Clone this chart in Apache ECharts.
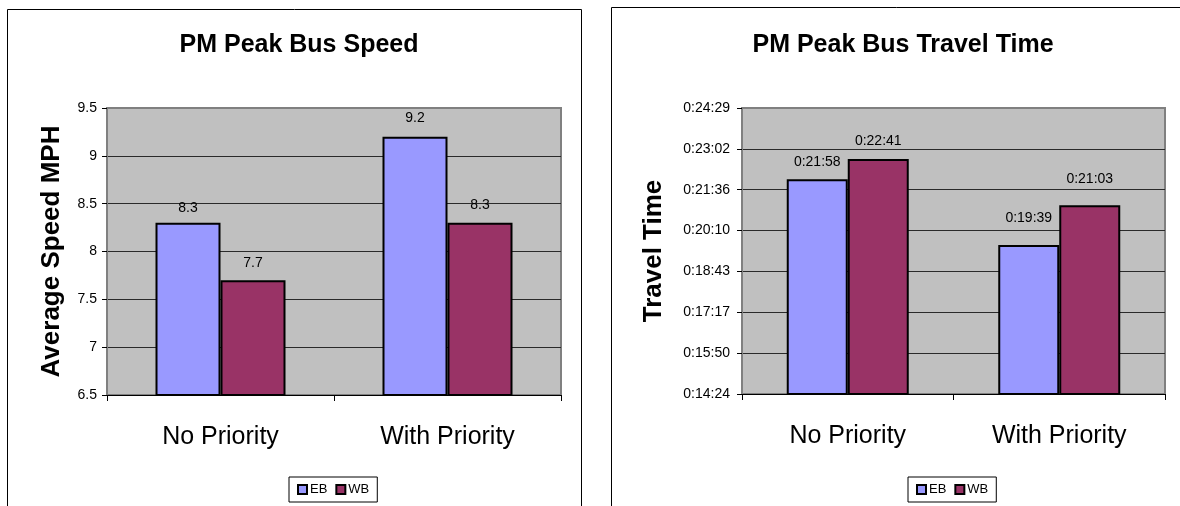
<!DOCTYPE html>
<html>
<head>
<meta charset="utf-8">
<script src="https://cdn.jsdelivr.net/npm/echarts@6/dist/echarts.min.js"></script>
<style>
  html, body { margin: 0; padding: 0; background: #fff; }
  #chart { width: 1180px; height: 506px; }
</style>
</head>
<body>
<div id="chart"></div>
<script>
// Categories shared by both panels
const categories = ['No Priority', 'With Priority'];
const seriesNames = ['EB', 'WB'];

// Average speed (mph)
const speedEB = [8.3, 9.2];
const speedWB = [7.7, 8.3];

// Travel time in seconds (0:21:58, 0:19:39 / 0:22:41, 0:21:03)
const timeEB = [1318, 1179];
const timeWB = [1361, 1263];

// Axis ranges
const speedAxis = { min: 6.5, max: 9.5, interval: 0.5 };
// time axis: 0.010 to 0.017 of a day, one tick per 0.001 day (86.4 s)
const timeAxis = { min: 864, max: 1468.8, interval: 86.4 };

const colors = ['#9999FF', '#993366'];
const FONT = 'Liberation Sans, Arial, sans-serif';

function hms(v) {
  const s = Math.round(v);
  const h = Math.floor(s / 3600);
  const m = Math.floor((s % 3600) / 60);
  const sec = s % 60;
  return h + ':' + String(m).padStart(2, '0') + ':' + String(sec).padStart(2, '0');
}

function xAxisFor(gridIndex) {
  return {
    type: 'category',
    gridIndex: gridIndex,
    data: categories,
    axisLine: { lineStyle: { color: '#000', width: 1 } },
    axisTick: { show: true, length: 6, lineStyle: { color: '#000' } },
    axisLabel: { fontSize: 25, color: '#000', margin: 30, fontFamily: FONT }
  };
}

function yAxisFor(gridIndex, range, name, nameGap, formatter, labelMargin) {
  return {
    type: 'value',
    gridIndex: gridIndex,
    min: range.min, max: range.max, interval: range.interval,
    name: name,
    nameLocation: 'middle',
    nameRotate: 90,
    nameGap: nameGap,
    nameTextStyle: { fontSize: 26, fontWeight: 'bold', color: '#000', fontFamily: FONT },
    axisLine: { show: true, lineStyle: { color: '#808080', width: 2 } },
    axisTick: { show: true, length: 5, lineStyle: { color: '#000' } },
    axisLabel: { fontSize: 14, color: '#000', margin: labelMargin, fontFamily: FONT, formatter: formatter },
    splitLine: { show: true, showMinLine: false, showMaxLine: false, lineStyle: { color: '#2a2a2a', width: 1 } }
  };
}

// label gap above each bar, per category
function barSeries(name, data, color, xi, yi, width, fmt, gaps) {
  return {
    name: name,
    type: 'bar',
    xAxisIndex: xi,
    yAxisIndex: yi,
    data: data.map((v, i) => ({ value: v, label: { distance: gaps[i] } })),
    barWidth: width,
    barGap: '0%',
    itemStyle: { color: color, borderColor: '#000', borderWidth: 2 },
    label: {
      show: true, position: 'top',
      fontSize: 14, color: '#000', fontFamily: FONT,
      formatter: fmt
    }
  };
}

const chart = echarts.init(document.getElementById('chart'), null, { renderer: 'canvas' });

chart.setOption({
  animation: false,
  backgroundColor: '#fff',
  textStyle: { fontFamily: FONT },
  graphic: [
    { type: 'rect', shape: { x: 7.5, y: 9.5, width: 574, height: 520 },
      style: { fill: 'none', stroke: '#000', lineWidth: 1 }, silent: true, z: -1 },
    { type: 'rect', shape: { x: 611.5, y: 7.5, width: 600, height: 520 },
      style: { fill: 'none', stroke: '#000', lineWidth: 1 }, silent: true, z: -1 }
  ],
  title: [
    { text: 'PM Peak Bus Speed', left: 294, top: 28, textAlign: 'center',
      textStyle: { fontSize: 25, fontWeight: 'bold', color: '#000', fontFamily: FONT } },
    { text: 'PM Peak Bus Travel Time', left: 898, top: 28, textAlign: 'center',
      textStyle: { fontSize: 25, fontWeight: 'bold', color: '#000', fontFamily: FONT } }
  ],
  legend: [
    { data: seriesNames, left: 289, top: 477, orient: 'horizontal',
      itemWidth: 9, itemHeight: 9, itemGap: 8, padding: [6, 8],
      borderColor: '#000', borderWidth: 1, icon: 'rect',
      textStyle: { fontSize: 13, color: '#000', fontFamily: FONT, padding: [0, 0, 0, -2] },
      selectedMode: false },
    { data: seriesNames.map(n => n + ' '), left: 908, top: 477, orient: 'horizontal',
      itemWidth: 9, itemHeight: 9, itemGap: 8, padding: [6, 8],
      borderColor: '#000', borderWidth: 1, icon: 'rect',
      formatter: n => n.trim(),
      textStyle: { fontSize: 13, color: '#000', fontFamily: FONT, padding: [0, 0, 0, -2] },
      selectedMode: false }
  ],
  grid: [
    { left: 107, top: 108, width: 454, height: 287, show: true,
      backgroundColor: '#C0C0C0', borderColor: '#808080', borderWidth: 2 },
    { left: 742, top: 108, width: 423, height: 286, show: true,
      backgroundColor: '#C0C0C0', borderColor: '#808080', borderWidth: 2 }
  ],
  xAxis: [xAxisFor(0), xAxisFor(1)],
  yAxis: [
    yAxisFor(0, speedAxis, 'Average Speed MPH', 42, null, 10),
    yAxisFor(1, timeAxis, 'Travel Time', 75, v => hms(v), 12)
  ],
  series: [
    barSeries('EB', speedEB, colors[0], 0, 0, 65, p => p.value, [8, 12]),
    barSeries('WB', speedWB, colors[1], 0, 0, 65, p => p.value, [10, 11]),
    barSeries('EB ', timeEB, colors[0], 1, 1, 61, p => hms(p.value), [10, 20]),
    barSeries('WB ', timeWB, colors[1], 1, 1, 61, p => hms(p.value), [11, 19])
  ]
});
</script>
</body>
</html>
